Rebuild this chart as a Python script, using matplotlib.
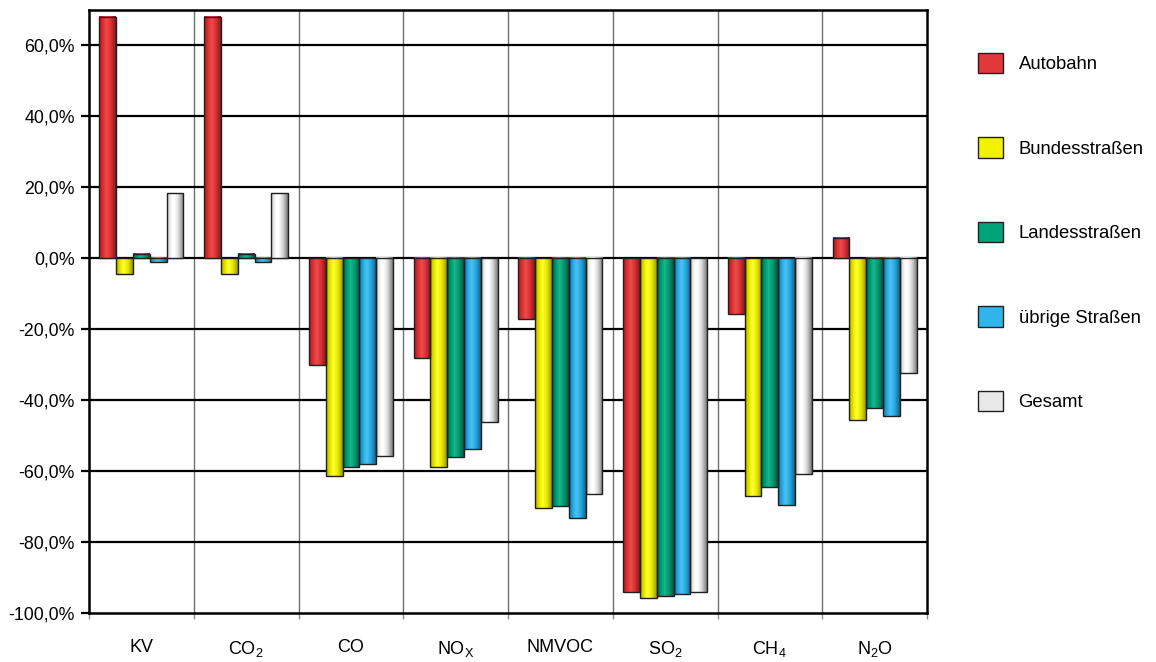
import numpy as np
import matplotlib
matplotlib.use("Agg")
import matplotlib.pyplot as plt
from matplotlib.colors import LinearSegmentedColormap
from matplotlib.patches import Rectangle
from matplotlib.ticker import FixedLocator, FuncFormatter

plt.rcParams['font.family'] = ['Liberation Sans', 'DejaVu Sans']
plt.rcParams['mathtext.default'] = 'regular'

# Kategorien (Schadstoffe) und Straßentypen
categories = ['KV', 'CO$_2$', 'CO', 'NO$_X$', 'NMVOC', 'SO$_2$', 'CH$_4$', 'N$_2$O']
series_names = ['Autobahn', 'Bundesstraßen', 'Landesstraßen', 'übrige Straßen', 'Gesamt']

# Veränderung in %
autobahn = [68.0, 68.0, -30.0, -28.3, -17.2, -94.0, -15.9, 5.7]
bundesstrassen = [-4.5, -4.5, -61.5, -59.0, -70.4, -95.7, -66.9, -45.6]
landesstrassen = [1.2, 1.2, -58.8, -56.1, -69.9, -95.3, -64.4, -42.3]
uebrige = [-1.2, -1.2, -58.0, -53.9, -73.3, -94.7, -69.5, -44.6]
gesamt = [18.2, 18.2, -55.8, -46.1, -66.6, -94.0, -60.9, -32.5]
series_values = [autobahn, bundesstrassen, landesstrassen, uebrige, gesamt]

yticks = [-100, -80, -60, -40, -20, 0, 20, 40, 60]

# Farbverläufe (dunkel - hell - dunkel) wie in Excel
shades = [
    ['#a81c1e', '#e2383a', '#f04a4a', '#d93234', '#8e1618'],
    ['#b0b000', '#f2f200', '#ffff30', '#e8e800', '#9a9a00'],
    ['#006a4c', '#00a47a', '#18b88c', '#009a70', '#005a40'],
    ['#1276a8', '#30b4ec', '#48c4f4', '#28a8e0', '#0e6690'],
    ['#c8c8c8', '#ffffff', '#ffffff', '#d8d8d8', '#7a7a7a'],
]
legend_colors = ['#e2383a', '#f2f200', '#00a47a', '#30b4ec', '#e8e8e8']

fig = plt.figure(figsize=(11.56, 6.62), dpi=100)
ax = fig.add_axes([0.0770, 0.0740, 0.7249, 0.9116])

x = np.arange(len(categories)) + 0.5
bw = 0.16
grad = np.linspace(0, 1, 64).reshape(1, -1)

for k, (vals, cols) in enumerate(zip(series_values, shades)):
    cmap = LinearSegmentedColormap.from_list(
        'c%d' % k, list(zip([0.0, 0.3, 0.45, 0.7, 1.0], cols)))
    bars = ax.bar(x + (k - 2) * bw, vals, width=bw, facecolor='none',
                  edgecolor='#202020', linewidth=1, zorder=4)
    for b in bars:
        x0, y0 = b.get_x(), b.get_y()
        w, h = b.get_width(), b.get_height()
        ax.imshow(grad, cmap=cmap, aspect='auto', interpolation='bilinear',
                  extent=[x0, x0 + w, min(y0, y0 + h), max(y0, y0 + h)],
                  zorder=3)

# Gitterlinien
for yv in yticks[1:]:
    ax.axhline(yv, color='black', linewidth=1.6, zorder=2)
for xv in range(1, len(categories)):
    ax.axvline(xv, color='#707070', linewidth=1.0, zorder=1)

ax.set_xlim(0, len(categories))
ax.set_ylim(-100, 70)

ax.yaxis.set_major_locator(FixedLocator(yticks))
ax.yaxis.set_major_formatter(FuncFormatter(lambda v, p: ('%.1f%%' % v).replace('.', ',')))
ax.tick_params(axis='y', direction='out', length=6, width=1.6, pad=4, labelsize=12.8)

ax.set_xticks(np.arange(len(categories) + 1))
ax.set_xticklabels([])
ax.set_xticks(x, minor=True)
ax.set_xticklabels(categories, minor=True)
ax.tick_params(axis='x', which='major', direction='out', length=4, width=1, color='#909090')
ax.tick_params(axis='x', which='minor', length=0, pad=19, labelsize=13)

for s in ax.spines.values():
    s.set_color('black')
    s.set_linewidth(1.8)

handles = [Rectangle((0, 0), 1, 1, facecolor=c, edgecolor='#202020', linewidth=1)
           for c in legend_colors]
fig.legend(handles, series_names, loc='center left', bbox_to_anchor=(0.846, 0.6495),
           frameon=False, fontsize=13.3, borderpad=0, borderaxespad=0,
           handlelength=1.35, handleheight=1.35, handletextpad=0.85,
           labelspacing=3.45)

fig.savefig('out.png', dpi=100)
